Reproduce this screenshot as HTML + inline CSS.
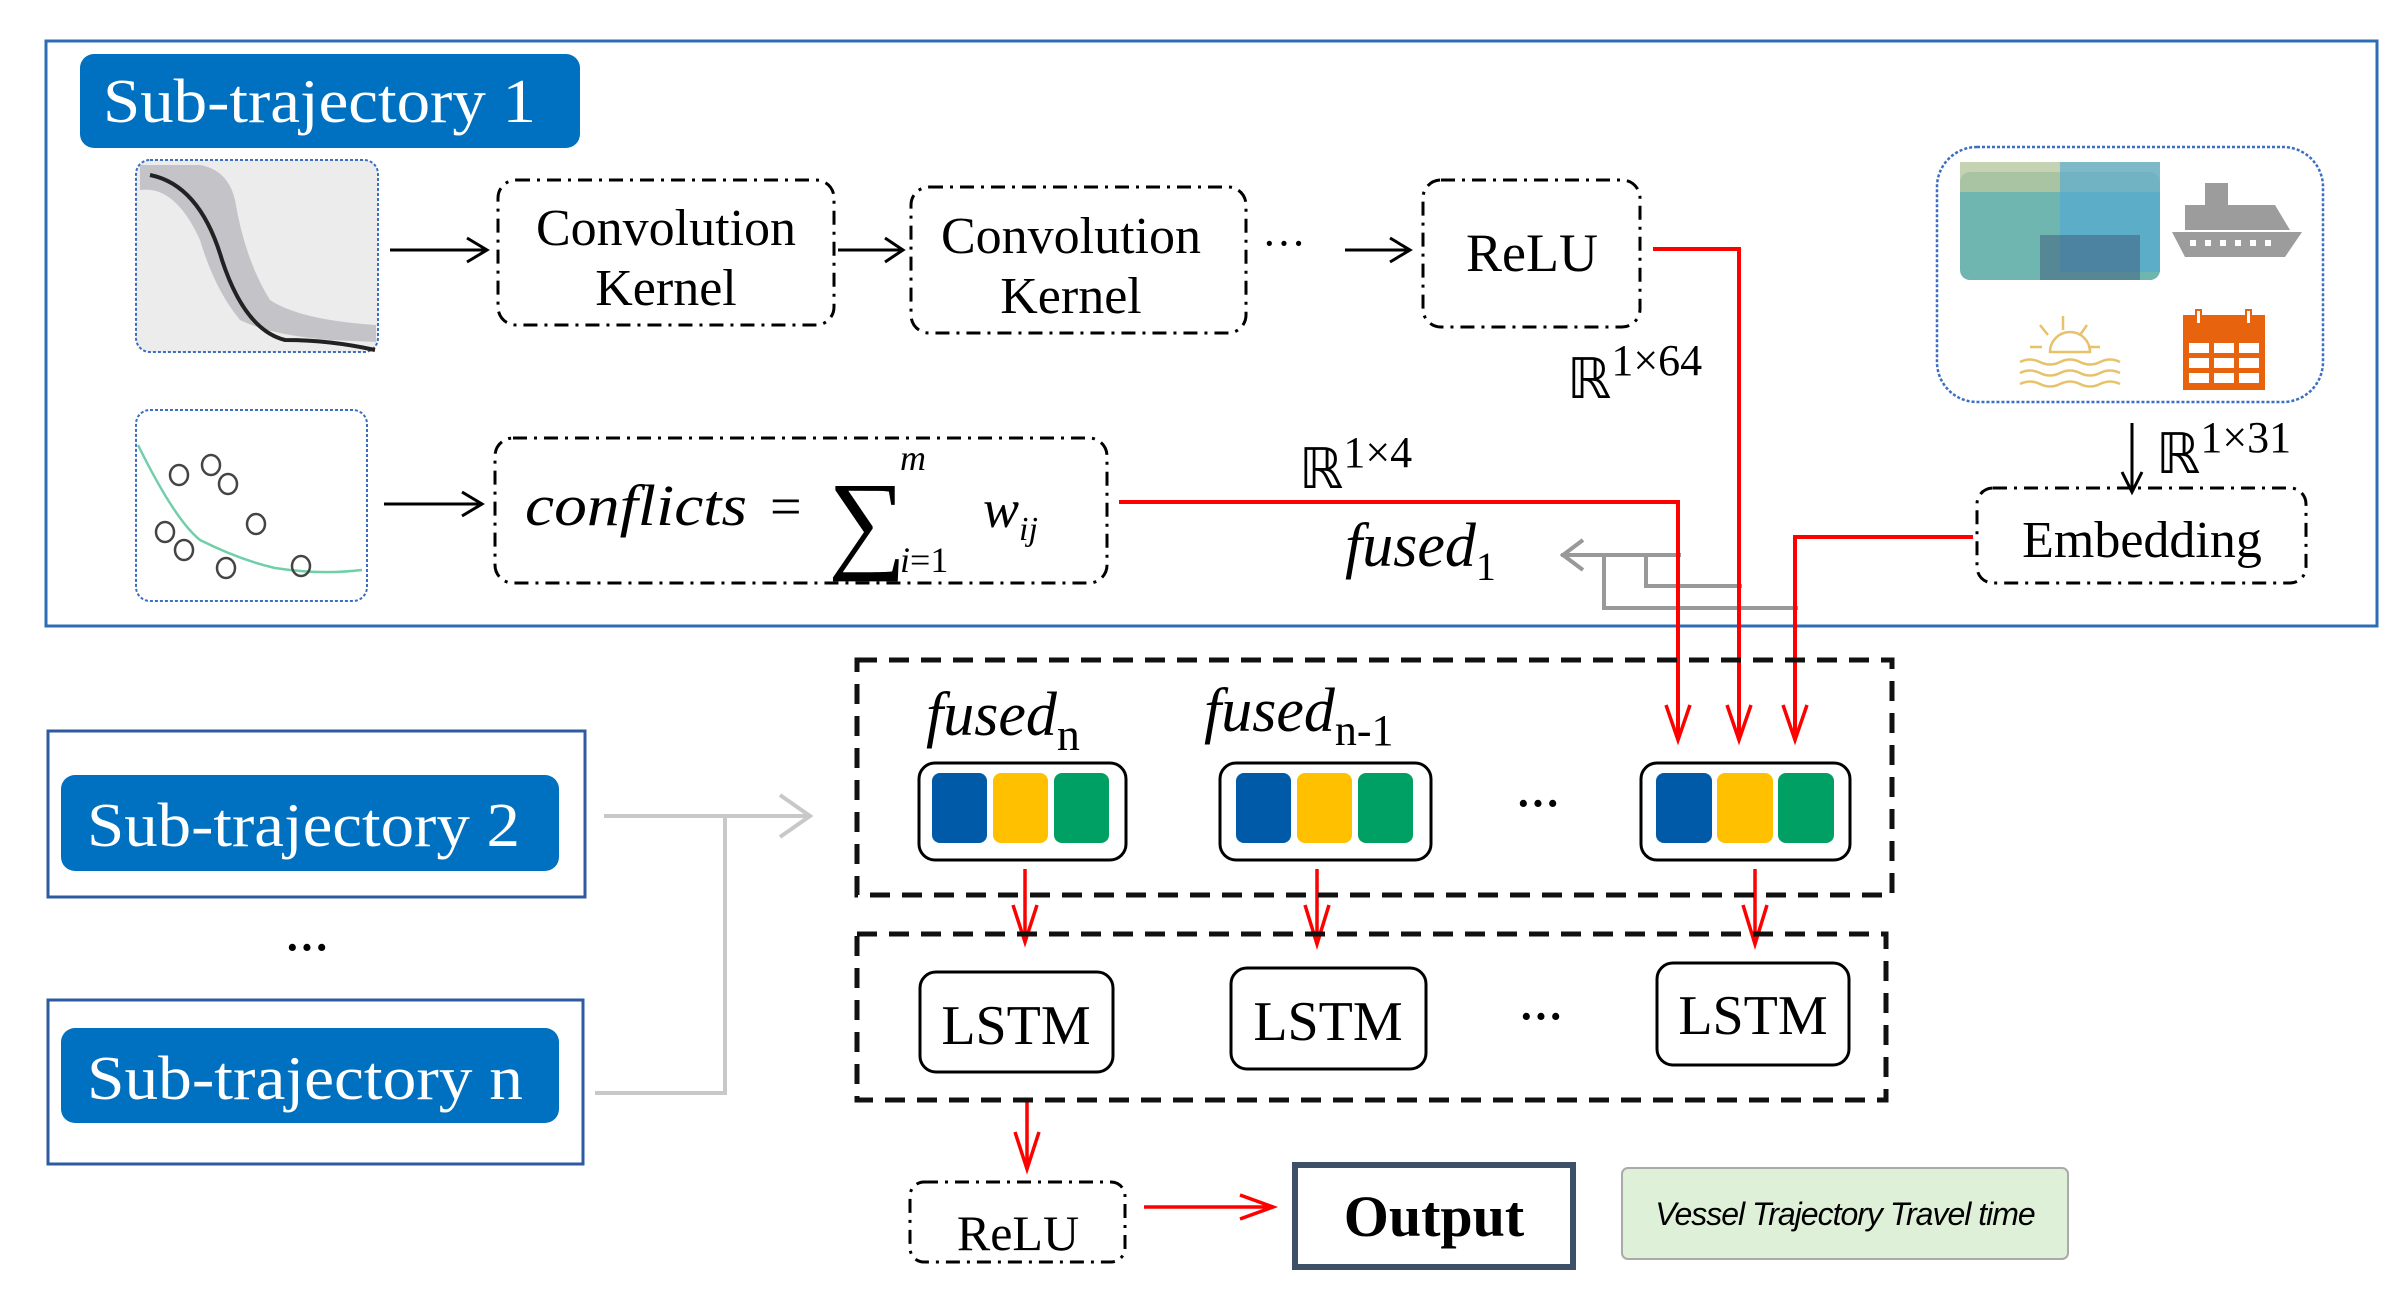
<!DOCTYPE html>
<html><head><meta charset="utf-8"><style>
html,body{margin:0;padding:0;background:#fff;}
svg{display:block;}
text{font-family:"Liberation Serif",serif;}
</style></head><body>
<svg width="2405" height="1314" viewBox="0 0 2405 1314" xmlns="http://www.w3.org/2000/svg">
<!-- outer top box -->
<rect x="46" y="41" width="2331" height="585" fill="none" stroke="#2e6db4" stroke-width="3"/>
<!-- Sub-trajectory 1 -->
<rect x="80" y="54" width="500" height="94" rx="14" fill="#0070c0"/>
<text x="103" y="122" font-size="62" fill="#fff" textLength="433" lengthAdjust="spacingAndGlyphs">Sub-trajectory 1</text>

<!-- map 1 -->
<rect x="136" y="160" width="242" height="192" rx="14" fill="#ececec" stroke="#3a6fc4" stroke-width="2" stroke-dasharray="3 2"/>
<path d="M140,190 Q175,185 200,240 Q215,290 240,320 Q270,335 330,340 L376,342 L376,325 Q300,320 270,300 Q245,260 235,200 Q228,170 200,165 L140,165 Z" fill="#c4c4c8"/>
<path d="M150,175 Q200,185 222,260 Q245,330 285,340 Q330,340 375,350" fill="none" stroke="#222" stroke-width="4"/>
<!-- map 2 -->
<rect x="136" y="410" width="231" height="191" rx="14" fill="#fff" stroke="#3a6fc4" stroke-width="2" stroke-dasharray="3 2"/>
<path d="M138,445 Q175,520 200,540 Q240,560 275,568 Q320,575 362,570" fill="none" stroke="#6fcfa8" stroke-width="2.5"/>
<g fill="none" stroke="#444" stroke-width="2.5">
<ellipse cx="179" cy="475" rx="9" ry="10"/><ellipse cx="211" cy="465" rx="9" ry="10"/><ellipse cx="228" cy="484" rx="9" ry="10"/>
<ellipse cx="256" cy="524" rx="9" ry="10"/><ellipse cx="165" cy="532" rx="9" ry="10"/><ellipse cx="184" cy="550" rx="9" ry="10"/>
<ellipse cx="226" cy="568" rx="9" ry="10"/><ellipse cx="301" cy="566" rx="9" ry="10"/>
</g>

<!-- arrows top row -->
<g stroke="#000" stroke-width="3" fill="none">
<path d="M390,250 L485,250 M467,238 L487,250 L467,262"/>
<path d="M838,250 L900,250 M885,238 L903,250 L885,262"/>
<path d="M1345,250 L1407,250 M1390,238 L1410,250 L1390,262"/>
<path d="M384,504 L480,504 M462,492 L482,504 L462,516"/>
<path d="M2132,423 L2132,490 M2122,472 L2132,492 L2142,472"/>
</g>
<text x="1262" y="258" font-size="44">···</text>

<!-- dash-dot boxes -->
<g fill="none" stroke="#000" stroke-width="3" stroke-dasharray="14 7 3 7">
<rect x="498" y="180" width="336" height="145" rx="18"/>
<rect x="911" y="187" width="335" height="146" rx="18"/>
<rect x="1423" y="180" width="217" height="147" rx="18"/>
<rect x="495" y="438" width="612" height="145" rx="18"/>
<rect x="1977" y="488" width="329" height="95" rx="16"/>
<rect x="910" y="1182" width="215" height="80" rx="14"/>
</g>
<text x="666" y="245" font-size="52" text-anchor="middle">Convolution</text>
<text x="666" y="305" font-size="52" text-anchor="middle">Kernel</text>
<text x="1071" y="253" font-size="52" text-anchor="middle">Convolution</text>
<text x="1071" y="313" font-size="52" text-anchor="middle">Kernel</text>
<text x="1532" y="271" font-size="54" text-anchor="middle">ReLU</text>
<text x="2142" y="557" font-size="52" text-anchor="middle">Embedding</text>
<text x="1018" y="1250" font-size="50" text-anchor="middle">ReLU</text>

<!-- conflicts formula -->
<text x="525" y="525" font-size="58" font-style="italic" textLength="222" lengthAdjust="spacingAndGlyphs">conflicts</text>
<text x="770" y="525" font-size="56">=</text>
<text x="828" y="558" font-size="110">∑</text>
<text x="900" y="470" font-size="36" font-style="italic">m</text>
<text x="900" y="572" font-size="36"><tspan font-style="italic">i</tspan>=1</text>
<text x="983" y="527" font-size="54" font-style="italic">w<tspan font-size="34" dy="13">ij</tspan></text>

<!-- R labels -->
<text x="1567" y="398" font-size="56">ℝ<tspan font-size="44" dy="-23">1×64</tspan></text>
<text x="1299" y="488" font-size="56">ℝ<tspan font-size="44" dy="-21">1×4</tspan></text>
<text x="2156" y="473" font-size="56">ℝ<tspan font-size="44" dy="-21">1×31</tspan></text>
<text x="1345" y="566" font-size="62" font-style="italic">fused<tspan font-style="normal" font-size="40" dy="14">1</tspan></text>

<!-- icons box -->
<rect x="1937" y="147" width="386" height="255" rx="40" fill="#fff" stroke="#3a6fc4" stroke-width="2.5" stroke-dasharray="3 2"/>
<rect x="1960" y="172" width="200" height="108" rx="10" fill="#6fb5b0"/>
<rect x="1960" y="162" width="200" height="30" fill="#b8c8a0" opacity="0.8"/>
<rect x="2060" y="162" width="100" height="110" fill="#4fa8d8" opacity="0.6"/>
<rect x="2040" y="235" width="100" height="45" fill="#3b5a78" opacity="0.5"/>
<path d="M2172,232 L2302,232 L2285,257 L2185,257 Z M2185,205 L2275,205 L2290,230 L2185,230 Z M2205,183 L2228,183 L2228,205 L2205,205 Z" fill="#9c9c9c"/>
<g fill="#fff"><rect x="2190" y="240" width="6" height="6"/><rect x="2205" y="240" width="6" height="6"/><rect x="2220" y="240" width="6" height="6"/><rect x="2235" y="240" width="6" height="6"/><rect x="2250" y="240" width="6" height="6"/><rect x="2265" y="240" width="6" height="6"/></g>
<g fill="none" stroke="#e8c26a" stroke-width="2.5">
<path d="M2050,352 A20,20 0 0 1 2090,352 Z"/>
<path d="M2063,316 L2063,330 M2040,325 L2048,335 M2087,325 L2080,335 M2030,347 L2042,347 M2088,347 L2100,347"/>
<path d="M2020,362 q10,-5 20,0 t20,0 t20,0 t20,0 t20,0 M2020,373 q10,-5 20,0 t20,0 t20,0 t20,0 t20,0 M2020,384 q10,-5 20,0 t20,0 t20,0 t20,0 t20,0"/>
</g>
<rect x="2183" y="315" width="82" height="75" fill="#e8630e"/>
<g fill="#fff"><rect x="2189" y="343" width="20" height="10"/><rect x="2214" y="343" width="20" height="10"/><rect x="2239" y="343" width="20" height="10"/>
<rect x="2189" y="358" width="20" height="10"/><rect x="2214" y="358" width="20" height="10"/><rect x="2239" y="358" width="20" height="10"/>
<rect x="2189" y="373" width="20" height="10"/><rect x="2214" y="373" width="20" height="10"/><rect x="2239" y="373" width="20" height="10"/>
<rect x="2183" y="322" width="82" height="14" fill="#e8630e"/><rect x="2196" y="310" width="5" height="14" fill="#fff" stroke="#e8630e" stroke-width="2"/><rect x="2246" y="310" width="5" height="14" fill="#fff" stroke="#e8630e" stroke-width="2"/></g>

<!-- gray lines near fused1 -->
<g fill="none" stroke="#999" stroke-width="4">
<path d="M1561,555 L1681,555 M1583,540 L1563,555 L1583,570"/>
<path d="M1646,555 L1646,586 L1742,586"/>
<path d="M1604,555 L1604,608 L1798,608"/>
</g>

<!-- red connectors -->
<g fill="none" stroke="#f00" stroke-width="4">
<path d="M1653,249 L1739,249 L1739,738"/>
<path d="M1119,502 L1678,502 L1678,738"/>
<path d="M1973,537 L1795,537 L1795,738"/>
</g>
<g fill="none" stroke="#f00" stroke-width="3.5">
<path d="M1666,705 L1678,740 L1690,705"/>
<path d="M1727,705 L1739,740 L1751,705"/>
<path d="M1783,705 L1795,740 L1807,705"/>
<path d="M1025,869 L1025,940 M1013,905 L1025,942 L1037,905"/>
<path d="M1317,869 L1317,942 M1305,905 L1317,944 L1329,905"/>
<path d="M1755,869 L1755,942 M1743,905 L1755,944 L1767,905"/>
<path d="M1027,1100 L1027,1167 M1015,1132 L1027,1169 L1039,1132"/>
<path d="M1144,1207 L1270,1207 M1240,1195 L1273,1207 L1240,1219"/>
</g>

<!-- big dashed boxes -->
<g fill="none" stroke="#111" stroke-width="5" stroke-dasharray="20 12">
<rect x="857" y="660" width="1035" height="235"/>
<rect x="857" y="934" width="1029" height="166"/>
</g>

<!-- fused labels -->
<text x="926" y="735" font-size="62" font-style="italic">fused<tspan font-style="normal" font-size="46" dy="15">n</tspan></text>
<text x="1204" y="731" font-size="62" font-style="italic">fused<tspan font-style="normal" font-size="44" dy="14">n-1</tspan></text>

<!-- vectors -->
<g>
<rect x="919" y="763" width="207" height="97" rx="16" fill="#fff" stroke="#000" stroke-width="3"/>
<rect x="932" y="773" width="55" height="70" rx="8" fill="#005aa8"/><rect x="993" y="773" width="55" height="70" rx="8" fill="#ffc000"/><rect x="1054" y="773" width="55" height="70" rx="8" fill="#00a064"/>
<rect x="1220" y="763" width="211" height="97" rx="16" fill="#fff" stroke="#000" stroke-width="3"/>
<rect x="1236" y="773" width="55" height="70" rx="8" fill="#005aa8"/><rect x="1297" y="773" width="55" height="70" rx="8" fill="#ffc000"/><rect x="1358" y="773" width="55" height="70" rx="8" fill="#00a064"/>
<rect x="1641" y="763" width="209" height="97" rx="16" fill="#fff" stroke="#000" stroke-width="3"/>
<rect x="1656" y="773" width="56" height="70" rx="8" fill="#005aa8"/><rect x="1717" y="773" width="56" height="70" rx="8" fill="#ffc000"/><rect x="1778" y="773" width="56" height="70" rx="8" fill="#00a064"/>
</g>
<text x="1516" y="818" font-size="44" font-weight="bold">···</text>
<text x="1519" y="1031" font-size="44" font-weight="bold">···</text>

<!-- LSTM -->
<g fill="#fff" stroke="#000" stroke-width="3">
<rect x="920" y="972" width="193" height="100" rx="16"/>
<rect x="1231" y="968" width="195" height="101" rx="16"/>
<rect x="1657" y="963" width="192" height="102" rx="16"/>
</g>
<text x="1016" y="1044" font-size="56" text-anchor="middle">LSTM</text>
<text x="1328" y="1040" font-size="56" text-anchor="middle">LSTM</text>
<text x="1753" y="1034" font-size="56" text-anchor="middle">LSTM</text>

<!-- Output -->
<rect x="1295" y="1165" width="278" height="102" fill="#fff" stroke="#3d5068" stroke-width="6"/>
<text x="1434" y="1236" font-size="58" font-weight="bold" text-anchor="middle">Output</text>
<rect x="1622" y="1168" width="446" height="91" rx="6" fill="#dff0d8" stroke="#aaa" stroke-width="2"/>
<text x="1845" y="1225" font-size="32" font-style="italic" text-anchor="middle" style="font-family:'Liberation Sans',sans-serif" letter-spacing="-1">Vessel Trajectory Travel time</text>

<!-- Sub-trajectory 2 & n -->
<rect x="48" y="731" width="537" height="166" fill="none" stroke="#2e5aa0" stroke-width="3"/>
<rect x="61" y="775" width="498" height="96" rx="14" fill="#0070c0"/>
<text x="87" y="846" font-size="62" fill="#fff" textLength="433" lengthAdjust="spacingAndGlyphs">Sub-trajectory 2</text>
<text x="285" y="962" font-size="44" font-weight="bold">···</text>
<rect x="48" y="1000" width="535" height="164" fill="none" stroke="#2e5aa0" stroke-width="3"/>
<rect x="61" y="1028" width="498" height="95" rx="14" fill="#0070c0"/>
<text x="87" y="1099" font-size="62" fill="#fff" textLength="436" lengthAdjust="spacingAndGlyphs">Sub-trajectory n</text>

<!-- gray connector -->
<g fill="none" stroke="#c8c8c8" stroke-width="4">
<path d="M604,816 L808,816 M780,795 L810,816 L780,837"/>
<path d="M725,816 L725,1093 L595,1093"/>
</g>
</svg>
</body></html>
